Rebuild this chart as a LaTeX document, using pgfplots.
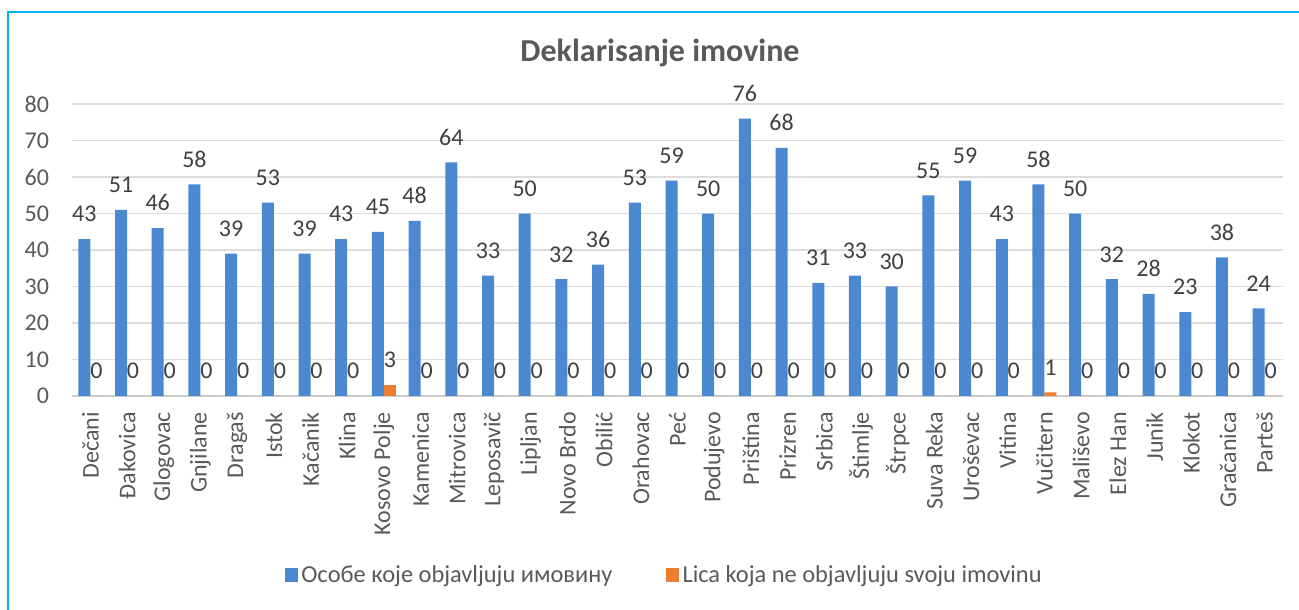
\documentclass[border=0pt]{standalone}
\usepackage{fontspec}
\setmainfont{Carlito}
\usepackage{pgfplots}
\usepackage{pgfplotstable}
\pgfplotsset{compat=1.18}
\definecolor{barblue}{HTML}{4A89D0}
\definecolor{barorange}{HTML}{ED7D31}
\definecolor{txt}{HTML}{595959}
\definecolor{lbl}{HTML}{404040}
\definecolor{frameblue}{HTML}{00B0F0}
\definecolor{gridc}{HTML}{DCDCDC}

\pgfplotstableread{
x blue orange
1 43 0
2 51 0
3 46 0
4 58 0
5 39 0
6 53 0
7 39 0
8 43 0
9 45 3
10 48 0
11 64 0
12 33 0
13 50 0
14 32 0
15 36 0
16 53 0
17 59 0
18 50 0
19 76 0
20 68 0
21 31 0
22 33 0
23 30 0
24 55 0
25 59 0
26 43 0
27 58 1
28 50 0
29 32 0
30 28 0
31 23 0
32 38 0
33 24 0
}\data

\begin{document}
\begin{tikzpicture}
\useasboundingbox (0,0) rectangle (974.25pt,457.5pt);
\draw[frameblue, line width=1.6pt] (6pt,0pt) -- (6pt,448.5pt) -- (974.25pt,448.5pt);
\begin{axis}[
  at={(54pt,160.5pt)}, anchor=south west,
  scale only axis, width=908.25pt, height=219pt,
  xmin=0.5, xmax=33.5, ymin=0, ymax=80,
  ybar=0pt, bar width=9pt,
  xtick={1,...,33},
  xticklabels={Dečani,Đakovica,Glogovac,Gnjilane,Dragaš,Istok,Kačanik,Klina,Kosovo Polje,Kamenica,Mitrovica,Leposavič,Lipljan,Novo Brdo,Obilić,Orahovac,Peć,Podujevo,Priština,Prizren,Srbica,Štimlje,Štrpce,Suva Reka,Uroševac,Vitina,Vučitern,Mališevo,Elez Han,Junik,Klokot,Gračanica,Parteš},
  ytick={0,10,...,80},
  /pgf/number format/assume math mode=true,
  major tick length=0pt,
  tick style={draw=none},
  axis line style={draw=none},
  ymajorgrids, grid style={gridc, line width=1.1pt},
  extra y ticks={0}, extra y tick labels={},
  extra y tick style={grid style={draw=black!20, line width=1.8pt}},
  ticklabel style={font=\fontsize{18}{21}\selectfont, text=txt, inner sep=0pt},
  xticklabel style={rotate=90, anchor=east},
  xticklabel shift=12pt,
  yticklabel shift=17pt,
  nodes near coords,
  nodes near coords style={font=\fontsize{18}{21}\selectfont, text=lbl, inner sep=0pt, anchor=south, yshift=12.5pt},
  legend columns=2,
  legend style={at={(axis description cs:0.4897,-0.613)}, anchor=center, draw=none, fill=none,
    font=\fontsize{18.3}{21}\selectfont, text=txt,
    nodes={inner sep=2.4pt},
    /tikz/every even column/.append style={column sep=38pt}},
  legend cell align=left,
]
\addplot[fill=barblue, draw=none,
  legend image code/.code={\fill[barblue] (0pt,-5.6pt) rectangle (9.75pt,5.6pt);}]
  table[x=x,y=blue]{\data};
\addplot[fill=barorange, draw=none,
  legend image code/.code={\fill[barorange] (0pt,-5.6pt) rectangle (9.75pt,5.6pt);}]
  table[x=x,y=orange]{\data};
\legend{Особе које objavljuju имовину, Lica koja ne objavljuju svoju imovinu}
\end{axis}
\node[font=\bfseries\fontsize{24}{28}\selectfont, text=txt, anchor=base] at (495pt,411.2pt) {Deklarisanje imovine};
\end{tikzpicture}
\end{document}
